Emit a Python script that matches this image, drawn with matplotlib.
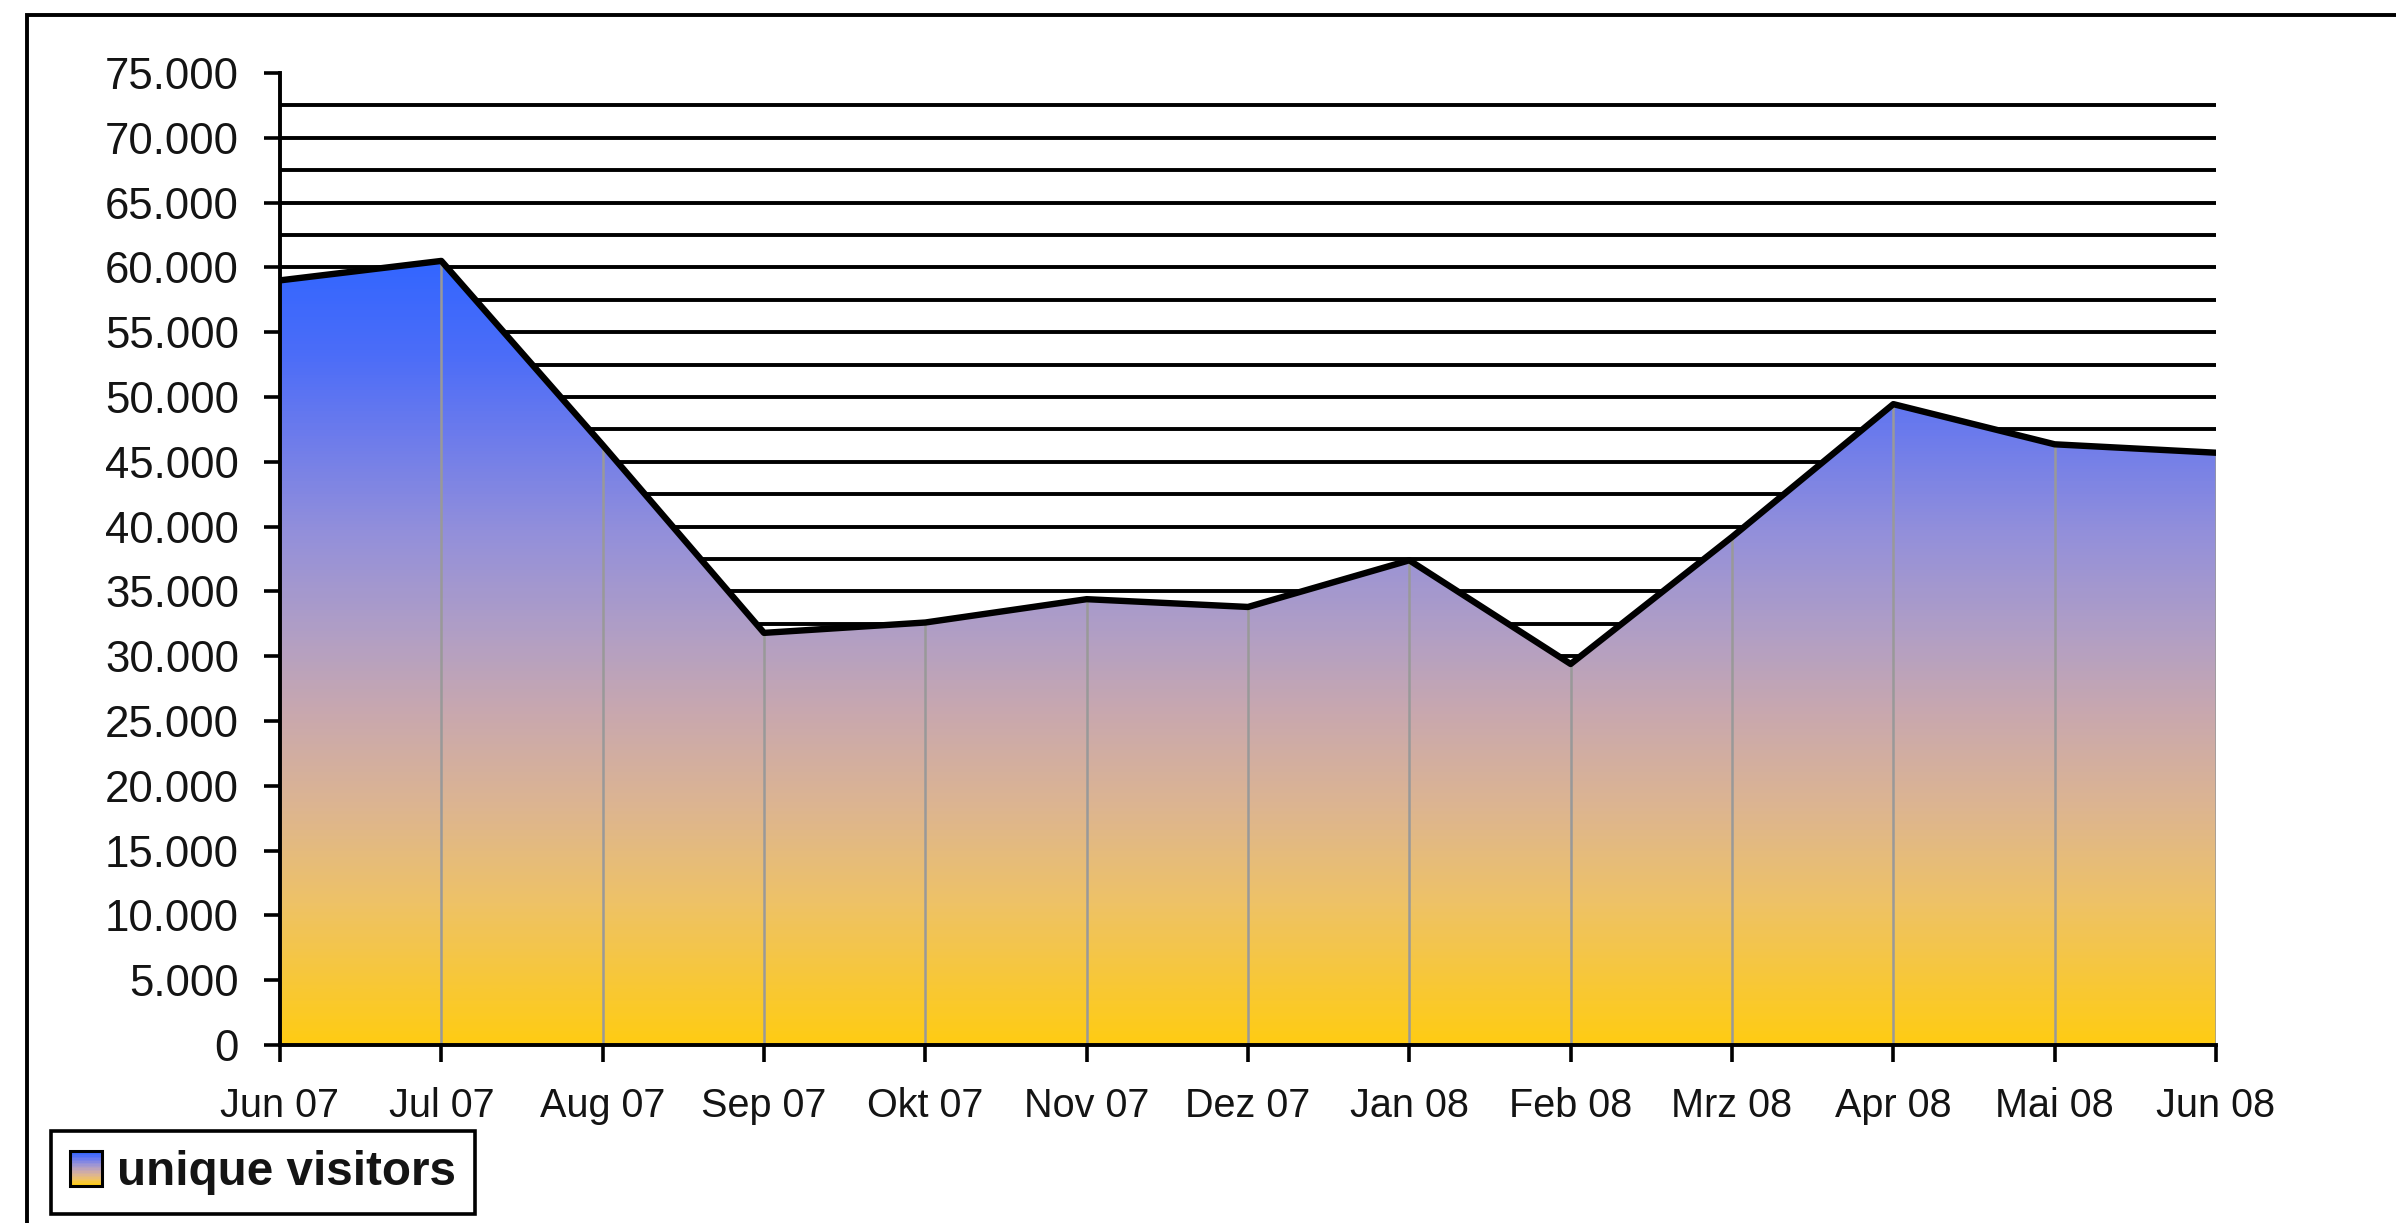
import matplotlib
matplotlib.use('Agg')
import matplotlib.pyplot as plt
import numpy as np
from matplotlib.colors import LinearSegmentedColormap
from matplotlib.patches import Polygon, Rectangle, Patch
from matplotlib.legend_handler import HandlerBase
from matplotlib.ticker import FuncFormatter, MultipleLocator

plt.rcParams['font.family'] = ['Liberation Sans', 'DejaVu Sans']

# monthly unique visitors
months = ['Jun 07', 'Jul 07', 'Aug 07', 'Sep 07', 'Okt 07', 'Nov 07', 'Dez 07',
          'Jan 08', 'Feb 08', 'Mrz 08', 'Apr 08', 'Mai 08', 'Jun 08']
visitors = [59000, 60500, 46300, 31800, 32600, 34400, 33800,
            37400, 29400, 39200, 49450, 46350, 45700]
series_name = 'unique visitors'

# yellow (bottom) -> lavender -> blue (top)
grad = LinearSegmentedColormap.from_list('visits', [
    (0.00, '#FFCC14'), (0.18, '#EEC267'), (0.30, '#DDB590'), (0.42, '#C9A8AE'),
    (0.52, '#B29FC4'), (0.65, '#9490DA'), (0.78, '#6C7BEC'), (0.88, '#4C6DF8'),
    (1.00, '#3366FF')])

x = np.arange(len(months))
y = np.array(visitors)

W, H = 2396, 1223
fig = plt.figure(figsize=(W / 100, H / 100), dpi=100)
fig.patch.set_facecolor('white')

# outer frame (cut off at right and bottom like the screenshot)
fig.patches.append(Rectangle((27 / W, -0.1), 1.1, 1.1 - 15 / H, transform=fig.transFigure,
                             fill=False, edgecolor='black', lw=2.8, zorder=0))

ax = fig.add_axes([280 / W, 1 - 1045 / H, (2216 - 280) / W, (1045 - 73) / H])
ax.set_xlim(0, len(months) - 1)
ax.set_ylim(0, 75000)

# horizontal grid every 2.500 (not at the top)
ax.hlines(np.arange(2500, 75000, 2500), 0, len(months) - 1, color='black', lw=2.8, zorder=1)

# gradient area
verts = np.column_stack([np.r_[x, x[-1], x[0]], np.r_[y, 0, 0]])
area = Polygon(verts, closed=True, facecolor='none', edgecolor='none')
ax.add_patch(area)
img = ax.imshow(np.linspace(0, 1, 256).reshape(-1, 1), cmap=grad, origin='lower',
                extent=[x[0], x[-1], 0, y.max()], aspect='auto', zorder=2,
                interpolation='bilinear')
img.set_clip_path(area)

# drop lines
ax.vlines(x[1:], 0, y[1:], color='#999999', lw=1.8, zorder=3)
ax.plot([x[-1] + 0.012] * 2, [0, y[-1]], color='#b8b8b8', lw=2.2, zorder=2.9)
# outline
ax.plot(x, y, color='black', lw=4.6, zorder=4, solid_joinstyle='round')

for s in ['top', 'right']:
    ax.spines[s].set_visible(False)
for s in ['left', 'bottom']:
    ax.spines[s].set_linewidth(2.8)
    ax.spines[s].set_zorder(5)

ax.yaxis.set_major_locator(MultipleLocator(5000))
ax.yaxis.set_major_formatter(FuncFormatter(lambda v, p: f'{int(v):,}'.replace(',', '.')))
ax.set_xticks(x)
ax.set_xticklabels(months)
ax.tick_params(axis='y', direction='out', length=11.5, width=2.6, pad=18,
               labelsize=31.5, labelcolor='#141414')
ax.tick_params(axis='x', direction='out', length=12, width=2.6, pad=18,
               labelsize=28.5, labelcolor='#141414')


class GradientHandler(HandlerBase):
    def create_artists(self, legend, orig_handle, xdescent, ydescent, width, height,
                       fontsize, trans):
        n = 24
        arts = []
        for i in range(n):
            arts.append(Rectangle((-xdescent, -ydescent + height * i / n), width, height / n + 0.3,
                                  facecolor=grad(i / (n - 1)), edgecolor='none', transform=trans))
        arts.append(Rectangle((-xdescent, -ydescent), width, height, facecolor='none',
                              edgecolor='black', lw=2.2, transform=trans))
        return arts


leg = fig.legend(handles=[Patch(label=series_name)], handler_map={Patch: GradientHandler()},
                 loc='upper left', bbox_to_anchor=(51 / W, 1 - 1131 / H),
                 bbox_transform=fig.transFigure, frameon=True, fancybox=False,
                 edgecolor='black', framealpha=1, borderpad=0.4, borderaxespad=0,
                 handlelength=0.68, handleheight=0.74, handletextpad=0.3,
                 prop={'size': 34.3, 'weight': 'bold'})
leg.get_frame().set_linewidth(2.6)
leg.get_texts()[0].set_color('#141414')

fig.savefig('out.png', dpi=100)
